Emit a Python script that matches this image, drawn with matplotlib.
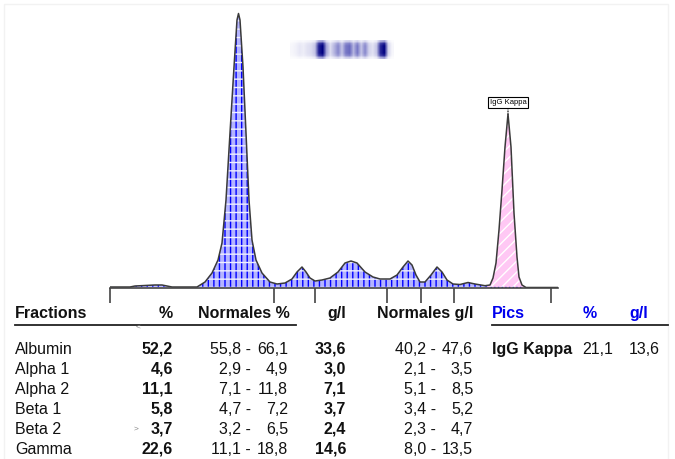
import numpy as np
import matplotlib.pyplot as plt
from matplotlib.colors import LinearSegmentedColormap
from matplotlib.patches import Rectangle

plt.rcParams['font.family'] = ['Liberation Sans', 'DejaVu Sans']
plt.rcParams['hatch.linewidth'] = 1.0

# densitometry trace: position along strip, optical density
pos = [0, 20, 25, 35, 45, 52, 57, 62, 87, 95, 102, 108, 112, 116, 120, 124, 127,
       128.5, 130, 133, 136, 139, 142, 146, 152, 160, 167, 175, 182, 187, 192, 196,
       200, 205, 212, 220, 228, 235, 241, 247, 255, 263, 270, 280, 287, 293, 298,
       302, 306, 310, 315, 321, 327, 332, 337, 343, 350, 358, 365, 375, 380, 383,
       386, 389, 392, 395, 398, 401, 404, 407, 409, 412, 416, 448]
dens = [1, 1, 2, 2.5, 3, 3, 2, 1, 1, 6, 15, 28, 45, 88, 155, 221, 268,
        274.5, 268, 221, 155, 88, 48, 28, 15, 6, 4, 5, 9, 16, 21, 16,
        10, 7, 8, 10, 16, 25, 27, 25, 16, 11, 9, 9, 13, 21, 27,
        23, 13, 6, 6, 13, 21, 16, 8, 4, 3.5, 5.5, 4, 2.3, 3, 10,
        25, 58, 98, 141, 174, 141, 75, 31, 11, 3, 0.5, 0.5]

# fraction limits on the baseline
limits = [0, 164, 205, 277, 311, 344, 441]
peak_start, peak_end = 380, 413

# gel strip band intensity (left to right)
band = [0.03, 0.05, 0.08, 0.06, 0.1, 0.12, 0.2, 0.85, 1.0, 0.3, 0.12, 0.25,
        0.4, 0.2, 0.45, 0.5, 0.25, 0.45, 0.2, 0.4, 0.15, 0.1, 0.2, 0.8, 1.0,
        0.15, 0.03]
band_v = [0.3, 0.85, 1, 1, 1, 1, 0.85, 0.3]

fractions = ['Albumin', 'Alpha 1', 'Alpha 2', 'Beta 1', 'Beta 2', 'Gamma']
pct = ['52,2', '4,6', '11,1', '5,8', '3,7', '22,6']
norm_pct_lo = ['55,8', '2,9', '7,1', '4,7', '3,2', '11,1']
norm_pct_hi = ['66,1', '4,9', '11,8', '7,2', '6,5', '18,8']
gl = ['33,6', '3,0', '7,1', '3,7', '2,4', '14,6']
norm_gl_lo = ['40,2', '2,1', '5,1', '3,4', '2,3', '8,0']
norm_gl_hi = ['47,6', '3,5', '8,5', '5,2', '4,7', '13,5']
pics = ['IgG Kappa']
pics_pct = ['21,1']
pics_gl = ['13,6']

W, H = 675, 459
fig = plt.figure(figsize=(W / 100, H / 100), dpi=100)

# background page for texts, pixel coordinates
bg = fig.add_axes([0, 0, 1, 1])
bg.set_xlim(0, W)
bg.set_ylim(H, 0)
bg.axis('off')
bg.add_patch(Rectangle((4, 4), 664, 460, fill=False, ec='#f2f2f2', lw=1))

# trace axes
x0, x1, ybase = 110, 558, 288
ax = fig.add_axes([x0 / W, 1 - ybase / H, (x1 - x0) / W, ybase / H])
ax.set_xlim(0, x1 - x0)
ax.set_ylim(0, ybase)
for s in ['top', 'right', 'left']:
    ax.spines[s].set_visible(False)
ax.spines['bottom'].set_color('#444444')
ax.spines['bottom'].set_linewidth(1.2)
ax.set_yticks([])
ax.set_xticks(limits)
ax.set_xticklabels([])
ax.tick_params(axis='x', direction='out', length=11, width=1.2, color='#444444')
ax.patch.set_alpha(0)

p = np.array(pos)
d = np.array(dens)
blue = p <= peak_start
pink = (p >= peak_start) & (p <= peak_end)
ax.fill_between(p, 0, d, where=blue, interpolate=True, facecolor='#b4b4ff', lw=0)
ax.fill_between(p, 0, d, where=blue, interpolate=True, facecolor='none',
                hatch='|||', edgecolor='#0000ff', lw=0)
ax.fill_between(p, 0, d, where=blue, interpolate=True, facecolor='none',
                hatch='--', edgecolor='#f0f0ff', lw=0)
ax.fill_between(p, 0, d, where=pink, interpolate=True, facecolor='#ffc8f4',
                hatch='///', edgecolor='white', lw=0)
ax.plot([peak_start, peak_end], [0.6, 0.6], color='#3030ff', lw=1, ls=':')
ax.plot(p, d, color='#3a3a3a', lw=1.1)

top = int(np.argmax(np.where(pink, d, 0)))
ax.annotate('IgG Kappa', xy=(p[top], d[top]), xytext=(p[top], d[top] + 8),
            ha='center', va='bottom', fontsize=5.5,
            bbox=dict(boxstyle='square,pad=0.2', fc='white', ec='black', lw=0.8),
            arrowprops=dict(arrowstyle='-', ls=':', lw=0.8, color='black',
                            shrinkA=0, shrinkB=0))

# gel strip
gx = fig.add_axes([290 / W, 1 - 59 / H, 104 / W, 19 / H])
strip = np.outer(band_v, band)
cmap = LinearSegmentedColormap.from_list('gel', ['white', '#6a6ac0', '#000080'])
gx.imshow(strip, cmap=cmap, vmin=0, vmax=1, aspect='auto', interpolation='bilinear')
gx.axis('off')

# table
fs = 11.5
blk = '#111111'
bl = '#0000ee'
hy = 318
bg.text(15, hy, 'Fractions', fontsize=fs, fontweight='bold', color=blk)
bg.text(173, hy, '%', fontsize=fs, fontweight='bold', ha='right', color=blk)
bg.text(290, hy, 'Normales %', fontsize=fs, fontweight='bold', ha='right', color=blk)
bg.text(346, hy, 'g/l', fontsize=fs, fontweight='bold', ha='right', color=blk)
bg.text(473, hy, 'Normales g/l', fontsize=fs, fontweight='bold', ha='right', color=blk)
bg.text(492, hy, 'Pics', fontsize=fs, fontweight='bold', color=bl)
bg.text(583, hy, '%', fontsize=fs, fontweight='bold', color=bl)
bg.text(629, hy, 'g/l', fontsize=fs, fontweight='bold', color=bl)
bg.plot([15, 296], [324.5, 324.5], color='#222222', lw=1.3)
bg.plot([492, 668], [324.5, 324.5], color='#222222', lw=1.3)
bg.text(138, 329, '<', fontsize=6, color='#888888', ha='center')
bg.text(136, 431, '>', fontsize=6, color='#888888', ha='center')

for i, name in enumerate(fractions):
    y = 354 + 20 * i
    bg.text(15, y, name, fontsize=fs, color=blk)
    bg.text(173, y, pct[i], fontsize=fs, fontweight='bold', ha='right', color=blk)
    bg.text(251, y, norm_pct_lo[i] + ' -', fontsize=fs, ha='right', color=blk)
    bg.text(288, y, norm_pct_hi[i], fontsize=fs, ha='right', color=blk)
    bg.text(346, y, gl[i], fontsize=fs, fontweight='bold', ha='right', color=blk)
    bg.text(436, y, norm_gl_lo[i] + ' -', fontsize=fs, ha='right', color=blk)
    bg.text(473, y, norm_gl_hi[i], fontsize=fs, ha='right', color=blk)

for i, name in enumerate(pics):
    y = 354 + 20 * i
    bg.text(492, y, name, fontsize=fs, fontweight='bold', color=blk)
    bg.text(613, y, pics_pct[i], fontsize=fs, ha='right', color=blk)
    bg.text(660, y, pics_gl[i], fontsize=fs, ha='right', color=blk)

fig.savefig('out.png', dpi=100)
